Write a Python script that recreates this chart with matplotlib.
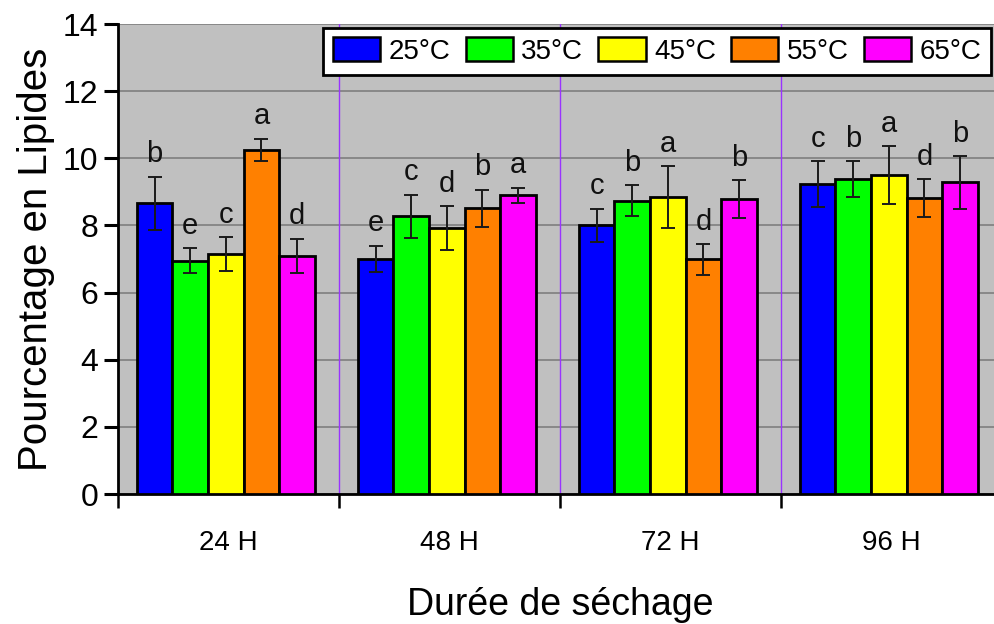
import matplotlib
matplotlib.use("Agg")
import matplotlib.pyplot as plt
import numpy as np
from matplotlib import font_manager

# ── Font: narrow Arial-like face if installed ────────────────────────────────
_names = {f.name for f in font_manager.fontManager.ttflist}
FONT = "Liberation Sans Narrow" if "Liberation Sans Narrow" in _names else "Liberation Sans"
plt.rcParams["font.family"] = [FONT, "DejaVu Sans"]

# ── Data ─────────────────────────────────────────────────────────────────────
durations = ["24 H", "48 H", "72 H", "96 H"]
temps = ["25°C", "35°C", "45°C", "55°C", "65°C"]
colors = ["#0000FF", "#00FF00", "#FFFF00", "#FF8000", "#FF00FF"]

# rows = temperature, cols = drying duration
means = [
    [8.66, 7.01, 8.00, 9.23],   # 25°C
    [6.95, 8.28, 8.74, 9.39],   # 35°C
    [7.15, 7.92, 8.85, 9.51],   # 45°C
    [10.25, 8.51, 6.99, 8.82],  # 55°C
    [7.09, 8.90, 8.78, 9.28],   # 65°C
]
errors = [
    [0.79, 0.39, 0.50, 0.69],
    [0.38, 0.64, 0.45, 0.53],
    [0.50, 0.65, 0.92, 0.86],
    [0.33, 0.56, 0.46, 0.56],
    [0.52, 0.22, 0.56, 0.79],
]
letters = [
    ["b", "e", "c", "c"],
    ["e", "c", "b", "b"],
    ["c", "d", "a", "a"],
    ["a", "b", "d", "d"],
    ["d", "a", "b", "b"],
]

# ── Figure ───────────────────────────────────────────────────────────────────
fig = plt.figure(figsize=(9.95, 6.24), dpi=100)
ax = fig.add_axes([118 / 995, 130 / 624, 884 / 995, 470 / 624])
ax.set_facecolor("#C0C0C0")

x = np.arange(len(durations))
w = 0.161
for j, (lab, col) in enumerate(zip(temps, colors)):
    xs = x + (j - 2) * w - 0.012
    ax.bar(xs, means[j], width=w, color=col, edgecolor="black", lw=2,
           label=lab, zorder=3)
    ax.errorbar(xs, means[j], yerr=errors[j], fmt="none", ecolor="#1a1a1a",
                elinewidth=1.4, capsize=5, capthick=1.4, zorder=4)
    for xi, m, e, let in zip(xs, means[j], errors[j], letters[j]):
        ax.annotate(let, (xi, m + e), xytext=(0, 6), textcoords="offset points",
                    ha="center", va="bottom", fontsize=21, color="#111111",
                    zorder=5)

# group separators
for b in [0.5, 1.5, 2.5]:
    ax.axvline(b, color="#9933FF", lw=1.0, zorder=1)

ax.set_xlim(-0.5, 3.5)
ax.set_ylim(0, 14)
ax.set_yticks(np.arange(0, 15, 2))
ax.yaxis.grid(True, color="#7F7F7F", lw=1.2, zorder=0)
ax.set_axisbelow(True)

ax.set_xticks(x)
ax.set_xticklabels(durations, fontsize=20)
ax.set_xticks([-0.5, 0.5, 1.5, 2.5], minor=True)
ax.tick_params(axis="x", which="major", length=0, pad=26)
ax.tick_params(axis="x", which="minor", length=10, width=1.8, direction="out")
ax.tick_params(axis="y", length=10, width=2.2, labelsize=23, pad=4)

for s in ["left", "bottom"]:
    ax.spines[s].set_linewidth(2)
for s in ["top", "right"]:
    ax.spines[s].set_visible(False)

ax.set_ylabel("Pourcentage en Lipides", fontsize=29, labelpad=6)
ax.set_xlabel("Durée de séchage", fontsize=27, labelpad=22)

leg = ax.legend(loc="upper left", bbox_to_anchor=(0.232, 0.992), ncol=5,
                fontsize=20, frameon=True, fancybox=False, edgecolor="black",
                handlelength=1.7, handleheight=0.95, handletextpad=0.3,
                columnspacing=0.55, borderpad=0.35, borderaxespad=0)
leg.get_frame().set_linewidth(2)
leg.get_frame().set_facecolor("white")
leg.get_frame().set_alpha(1)
for p in leg.get_patches():
    p.set_linewidth(1.8)

fig.savefig("out.png", dpi=100)
